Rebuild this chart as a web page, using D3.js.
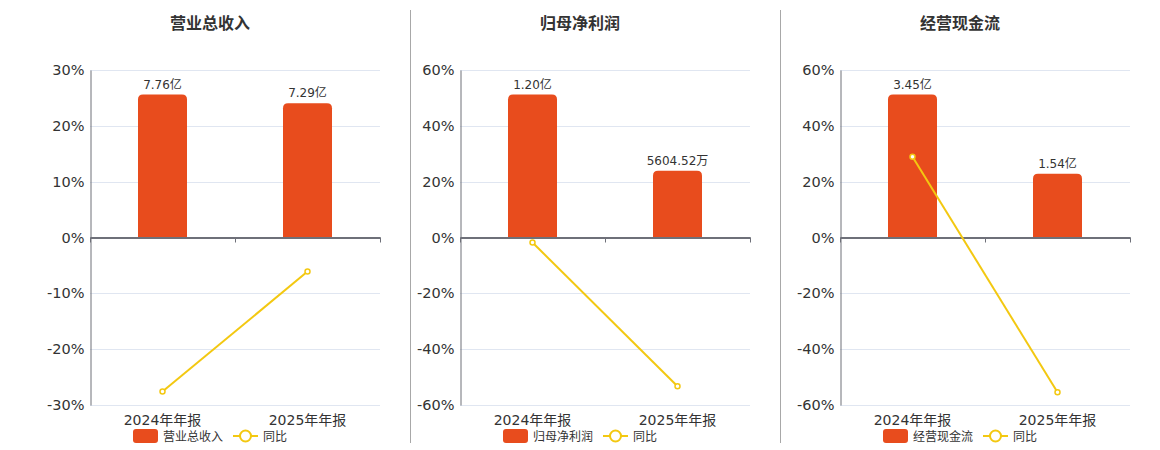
<!DOCTYPE html>
<html>
<head>
<meta charset="utf-8">
<script src="https://cdn.jsdelivr.net/npm/d3@7/dist/d3.min.js"></script>
<style>
  html, body { margin: 0; padding: 0; background: #fff; }
  svg { display: block; font-family: "DejaVu Sans", "Noto Sans CJK SC", sans-serif; }
</style>
</head>
<body>
<svg id="chart" width="1160" height="450"></svg>
<script>
// Data
const categories = ["2024年年报", "2025年年报"]
const titles = ["营业总收入", "归母净利润", "经营现金流"]
const barValues = [[7.76, 7.29], [1.20, 0.560452], [3.45, 1.54]]
const barLabels = [["7.76亿", "7.29亿"], ["1.20亿", "5604.52万"], ["3.45亿", "1.54亿"]]
const yoyValues = [[-27.6, -6.1], [-1.8, -53.3], [28.9, -55.4]]
const yTicks = [[-30, -20, -10, 0, 10, 20, 30], [-60, -40, -20, 0, 20, 40, 60], [-60, -40, -20, 0, 20, 40, 60]]

// Layout
const PLOT_LEFT = [90, 460, 840]
const PLOT_W = 290
const PLOT_TOP = 70
const PLOT_BOTTOM = 405
const SEPARATORS = [410.5, 780.5]
const BAR_W = 49
const BAR_COLOR = "#e84c1d"
const LINE_COLOR = "#f3c811"
const AXIS_COLOR = "#6e7079"
const GRID_COLOR = "#e0e6f1"
const TEXT_COLOR = "#333"

const svg = d3.select("#chart")

SEPARATORS.forEach((x) => {
  svg.append("line")
    .attr("x1", x).attr("x2", x)
    .attr("y1", 10).attr("y2", 443)
    .attr("stroke", "#a8a8a8").attr("stroke-width", 1)
})

// Rounded-top bar path
function barPath(x, y, w, h, r) {
  const rr = Math.min(r, w / 2, h)
  return `M${x},${y + h} V${y + rr} Q${x},${y} ${x + rr},${y} H${x + w - rr} Q${x + w},${y} ${x + w},${y + rr} V${y + h} Z`
}

titles.forEach((title, i) => {
  const left = PLOT_LEFT[i]
  const g = svg.append("g")
  const cx = left + 120

  const x = d3.scaleBand().domain(categories).range([left, left + PLOT_W])
  const ticks = yTicks[i]
  const y = d3.scaleLinear().domain([ticks[0], ticks[ticks.length - 1]]).range([PLOT_BOTTOM, PLOT_TOP])
  const barMax = d3.max(barValues[i]) / 0.853
  const yBar = d3.scaleLinear().domain([-barMax, barMax]).range([PLOT_BOTTOM, PLOT_TOP])

  // title
  g.append("text")
    .attr("x", cx).attr("y", 29)
    .attr("text-anchor", "middle")
    .attr("font-size", 16).attr("font-weight", "bold")
    .attr("fill", TEXT_COLOR)
    .text(title)

  // grid
  g.append("g")
    .selectAll("line")
    .data(ticks.filter((t) => t !== 0))
    .join("line")
    .attr("x1", left).attr("x2", left + PLOT_W)
    .attr("y1", (d) => Math.round(y(d)) + 0.5).attr("y2", (d) => Math.round(y(d)) + 0.5)
    .attr("stroke", GRID_COLOR)

  // y axis
  const yAxis = d3.axisLeft(y).tickValues(ticks).tickSize(0).tickPadding(6).tickFormat((d) => d + "%")
  const ya = g.append("g").attr("transform", `translate(${left + 0.5},0)`).call(yAxis)
  ya.attr("font-family", null).attr("font-size", null)
  ya.select(".domain").attr("stroke", AXIS_COLOR)
  ya.selectAll("text").attr("font-size", 14.5).attr("fill", TEXT_COLOR)

  // bars
  g.append("g")
    .selectAll("path")
    .data(barValues[i])
    .join("path")
    .attr("d", (d, j) => {
      const bx = x(categories[j]) + x.bandwidth() / 2 - BAR_W / 2
      const top = yBar(d)
      return barPath(bx, top, BAR_W, yBar(0) - top, 5)
    })
    .attr("fill", BAR_COLOR)

  g.append("g")
    .selectAll("text")
    .data(barValues[i])
    .join("text")
    .attr("x", (d, j) => x(categories[j]) + x.bandwidth() / 2)
    .attr("y", (d) => yBar(d) - 6)
    .attr("text-anchor", "middle")
    .attr("font-size", 12)
    .attr("fill", TEXT_COLOR)
    .text((d, j) => barLabels[i][j])

  // zero axis with ticks
  const xAxis = d3.axisBottom(x).tickSizeInner(0).tickSizeOuter(0).tickFormat("")
  const xa = g.append("g").attr("transform", `translate(0,${y(0)})`).call(xAxis)
  xa.select(".domain").attr("stroke", AXIS_COLOR).attr("stroke-width", 2)
  const bounds = [left, left + PLOT_W / 2, left + PLOT_W]
  xa.selectAll(".bt")
    .data(bounds)
    .join("line")
    .attr("class", "bt")
    .attr("x1", (d) => Math.round(d) + 0.5).attr("x2", (d) => Math.round(d) + 0.5)
    .attr("y1", 0).attr("y2", 5)
    .attr("stroke", AXIS_COLOR)

  // category labels
  g.append("g")
    .selectAll("text")
    .data(categories)
    .join("text")
    .attr("x", (d) => x(d) + x.bandwidth() / 2)
    .attr("y", 425)
    .attr("text-anchor", "middle")
    .attr("font-size", 14)
    .attr("fill", TEXT_COLOR)
    .text((d) => d)

  // yoy line
  const line = d3.line()
    .x((d, j) => x(categories[j]) + x.bandwidth() / 2)
    .y((d) => y(d))
  g.append("path")
    .datum(yoyValues[i])
    .attr("d", line)
    .attr("fill", "none")
    .attr("stroke", LINE_COLOR)
    .attr("stroke-width", 2)
  g.append("g")
    .selectAll("circle")
    .data(yoyValues[i])
    .join("circle")
    .attr("cx", (d, j) => x(categories[j]) + x.bandwidth() / 2)
    .attr("cy", (d) => y(d))
    .attr("r", 2.5)
    .attr("fill", "#fff")
    .attr("stroke", LINE_COLOR)
    .attr("stroke-width", 1.5)

  // legend
  const lx = cx - 77
  const ly = 436
  const lg = g.append("g")
  lg.append("rect")
    .attr("x", lx).attr("y", ly - 7)
    .attr("width", 25).attr("height", 14)
    .attr("rx", 3)
    .attr("fill", BAR_COLOR)
  lg.append("text")
    .attr("x", lx + 30).attr("y", ly + 4.5)
    .attr("font-size", 12).attr("fill", TEXT_COLOR)
    .text(title)
  const lx2 = lx + 100
  lg.append("line")
    .attr("x1", lx2).attr("x2", lx2 + 25)
    .attr("y1", ly).attr("y2", ly)
    .attr("stroke", LINE_COLOR).attr("stroke-width", 2)
  lg.append("circle")
    .attr("cx", lx2 + 12.5).attr("cy", ly)
    .attr("r", 5.5)
    .attr("fill", "#fff")
    .attr("stroke", LINE_COLOR).attr("stroke-width", 2)
  lg.append("text")
    .attr("x", lx2 + 30).attr("y", ly + 4.5)
    .attr("font-size", 12).attr("fill", TEXT_COLOR)
    .text("同比")
})
</script>
</body>
</html>
